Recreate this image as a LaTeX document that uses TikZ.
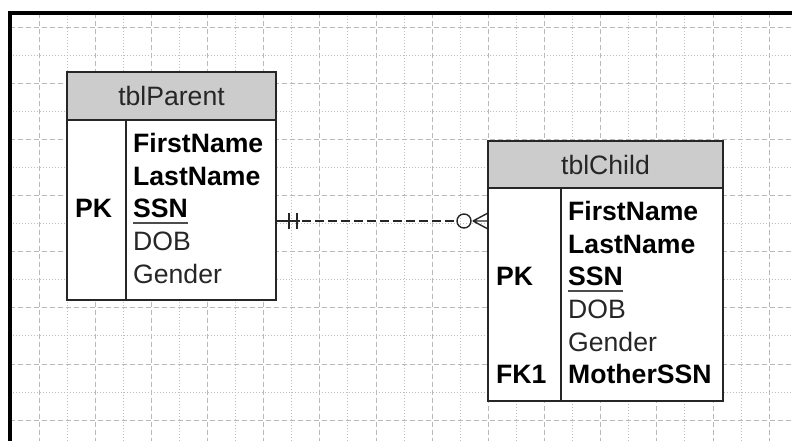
\documentclass[tikz,border=0pt]{standalone}
\usepackage{fontspec}
\setmainfont{Liberation Sans}

\def\gridStep{28.08}
\def\gridLeft{9.5}
\def\gridTop{13.5}
\def\tblRowSkip{32.6}
\def\tblTextGap{7}
\def\tblKeyGap{8}

\tikzset{
    gridmajor/.style = {gray!55, line width = 0.8pt, dash pattern = on 5pt off 3pt},
    gridminor/.style = {gray!50, line width = 0.8pt, dash pattern = on 1pt off 2pt},
    tblhead/.style = {draw = black!85, line width = 1.4pt, fill = gray!40, anchor = north west,
        inner sep = 0pt, outer sep = 0pt, text = black!85, font = \fontsize{26.6}{31}\selectfont},
    tblbody/.style = {draw = black!85, line width = 1.4pt, fill = white, anchor = north west,
        inner sep = 0pt, outer sep = 0pt},
    tblfield/.style = {anchor = base west, inner sep = 0pt, font = \fontsize{26.6}{31}\selectfont},
    relline/.style = {black!85, line width = 1.4pt},
}

\begin{document}
\begin{tikzpicture}[x = 1pt, y = -1pt]
    \useasboundingbox (0,0) rectangle (792,441);
    \fill [white] (0,0) rectangle (792,441);
    %% grid
    \foreach \k in {0,2,...,26} {
        \draw [gridmajor] ({39+\k*\gridStep},\gridTop) -- ++(0,428);
    }
    \foreach \k in {1,3,...,25} {
        \draw [gridminor] ({39+\k*\gridStep},\gridTop) -- ++(0,428);
    }
    \foreach \k in {0,2,...,14} {
        \draw [gridmajor] (\gridLeft,{27+\k*\gridStep}) -- (792,{27+\k*\gridStep});
    }
    \foreach \k in {1,3,...,13} {
        \draw [gridminor] (\gridLeft,{27+\k*\gridStep}) -- (792,{27+\k*\gridStep});
    }
    %% frame
    \draw [line width = 4pt]
    (\gridLeft,441) -- (\gridLeft,\gridTop) -- (792,\gridTop)
    ;
    %% tblParent
    \node [tblhead, minimum width = 209, minimum height = 48] (parentHead) at (67,72) {tblParent};
    \node [tblbody, minimum width = 209, minimum height = 180] (parentBody) at (parentHead.south west) {};
    \draw [relline]
    (parentBody.north west) ++(59,0) coordinate (parentDiv)
    -- (parentDiv |- parentBody.south)
    ;
    \foreach \txt [count = \i] in {\bfseries FirstName, \bfseries LastName, \bfseries SSN,
        {\color{black!85}DOB}, {\color{black!85}Gender}} {
        \node [tblfield] (parentField\i) at ([xshift = \tblTextGap, yshift = {-\i*\tblRowSkip}] parentDiv) {\txt};
    }
    \node [tblfield] (parentPK) at ([xshift = \tblKeyGap, yshift = {-3*\tblRowSkip}] parentBody.north west) {\bfseries PK};
    \draw [line width = 1.8pt, black!70]
    ([yshift = -5] parentField3.base west) -- ([yshift = -5] parentField3.base east)
    ;
    %% tblChild
    \node [tblhead, minimum width = 235, minimum height = 47] (childHead) at (488,141) {tblChild};
    \node [tblbody, minimum width = 235, minimum height = 213] (childBody) at (childHead.south west) {};
    \draw [relline]
    (childBody.north west) ++(73,0) coordinate (childDiv)
    -- (childDiv |- childBody.south)
    ;
    \foreach \txt [count = \i] in {\bfseries FirstName, \bfseries LastName, \bfseries SSN,
        {\color{black!85}DOB}, {\color{black!85}Gender}, \bfseries MotherSSN} {
        \node [tblfield] (childField\i) at ([xshift = \tblTextGap, yshift = {-\i*\tblRowSkip}] childDiv) {\txt};
    }
    \node [tblfield] (childPK) at ([xshift = \tblKeyGap, yshift = {-3*\tblRowSkip}] childBody.north west) {\bfseries PK};
    \node [tblfield] (childFK) at ([xshift = \tblKeyGap, yshift = {-6*\tblRowSkip}] childBody.north west) {\bfseries FK1};
    \draw [line width = 1.8pt, black!70]
    ([yshift = -5] childField3.base west) -- ([yshift = -5] childField3.base east)
    ;
    %% relationship
    \coordinate (parentConn) at (parentBody.east |- 0,221);
    \coordinate (childConn) at (childBody.west |- parentConn);
    \draw [relline, dash pattern = on 9pt off 4pt]
    (parentConn) -- ([xshift = -31] childConn)
    ;
    \draw [relline]
    (parentConn) -- ++(24,0)
    (parentConn) ++(13,-8) -- ++(0,16)
    (parentConn) ++(21,-8) -- ++(0,16)
    ;
    \draw [relline]
    ([xshift = -24] childConn) circle (7pt)
    ;
    \draw [relline]
    (childConn) ++(-15,0) coordinate (crowFoot) -- ++(15,-8)
    (crowFoot) -- (childConn)
    (crowFoot) -- ++(15,8)
    ;
\end{tikzpicture}
\end{document}
